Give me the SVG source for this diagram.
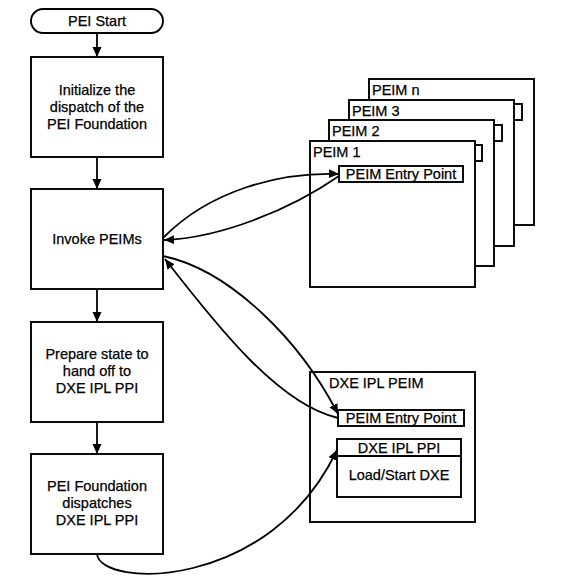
<svg xmlns="http://www.w3.org/2000/svg" width="574" height="582" viewBox="0 0 574 582">
<defs>
<marker id="ah" markerUnits="userSpaceOnUse" markerWidth="10" markerHeight="10" refX="10" refY="5" orient="auto">
<path d="M0,0.5 L10,5 L0,9.5 z" fill="#000"/>
</marker>
<style>
.box{fill:#fff;stroke:#000;stroke-width:1.9}
.ln{fill:none;stroke:#000;stroke-width:1.8}
.t{font-family:"Liberation Sans",Arial,sans-serif;font-size:14.5px;fill:#000;stroke:#000;stroke-width:0.25}
.c{text-anchor:middle}
</style>
</defs>
<rect width="574" height="582" fill="#fff"/>

<g id="pei-start">
<rect class="box" x="31" y="9" width="132" height="24" rx="12" ry="12"/>
<text class="t c" x="97" y="26">PEI Start</text>
</g>
<g id="init">
<rect class="box" x="31" y="57" width="132" height="100"/>
<text class="t c" x="97" y="95">Initialize the</text>
<text class="t c" x="97" y="112">dispatch of the</text>
<text class="t c" x="97" y="129">PEI Foundation</text>
</g>
<g id="invoke">
<rect class="box" x="31" y="189" width="132" height="100"/>
<text class="t c" x="97" y="244">Invoke PEIMs</text>
</g>
<g id="prepare">
<rect class="box" x="31" y="322" width="132" height="100"/>
<text class="t c" x="97" y="359">Prepare state to</text>
<text class="t c" x="97" y="376">hand off to</text>
<text class="t c" x="97" y="393">DXE IPL PPI</text>
</g>
<g id="dispatch">
<rect class="box" x="31" y="454" width="132" height="100"/>
<text class="t c" x="97" y="491">PEI Foundation</text>
<text class="t c" x="97" y="508">dispatches</text>
<text class="t c" x="97" y="525">DXE IPL PPI</text>
</g>

<g id="peim-n">
<rect class="box" x="369" y="79" width="165" height="146"/>
<rect class="box" x="398" y="104" width="124" height="16"/>
<text class="t" x="372" y="95">PEIM n</text>
</g>
<g id="peim-3">
<rect class="box" x="349" y="100" width="165" height="146"/>
<rect class="box" x="378" y="125" width="124" height="16"/>
<text class="t" x="352" y="116">PEIM 3</text>
</g>
<g id="peim-2">
<rect class="box" x="329" y="120" width="165" height="146"/>
<rect class="box" x="358" y="145" width="124" height="16"/>
<text class="t" x="332" y="136">PEIM 2</text>
</g>
<g id="peim-1">
<rect class="box" x="310" y="141" width="165" height="146"/>
<rect class="box" x="339" y="166" width="124" height="16"/>
<text class="t" x="313" y="157">PEIM 1</text>
<text class="t c" x="401" y="179">PEIM Entry Point</text>
</g>

<g id="dxe-ipl-peim">
<rect class="box" x="310" y="372" width="165" height="150"/>
<text class="t" x="329" y="388">DXE IPL PEIM</text>
<rect class="box" x="338" y="410" width="126" height="16"/>
<text class="t c" x="401" y="423">PEIM Entry Point</text>
<rect class="box" x="337" y="439" width="124" height="58"/>
<line class="ln" x1="337" y1="456" x2="461" y2="456"/>
<text class="t c" x="399" y="453">DXE IPL PPI</text>
<text class="t c" x="399" y="480">Load/Start DXE</text>
</g>

<g id="connectors">
<line class="ln" x1="97" y1="33" x2="97" y2="57" marker-end="url(#ah)"/>
<line class="ln" x1="97" y1="157" x2="97" y2="189" marker-end="url(#ah)"/>
<line class="ln" x1="97" y1="289" x2="97" y2="322" marker-end="url(#ah)"/>
<line class="ln" x1="97" y1="422" x2="97" y2="454" marker-end="url(#ah)"/>
<path class="ln" d="M163,238 C210,190 280,172 339,174" marker-end="url(#ah)"/>
<path class="ln" d="M339,176 C290,210 220,238 164,240" marker-end="url(#ah)"/>
<path class="ln" d="M163,256 C230,270 300,340 338,414" marker-end="url(#ah)"/>
<path class="ln" d="M338,418 C280,405 220,330 165,259" marker-end="url(#ah)"/>
<path class="ln" d="M97,554 C100,588 270,592 337,450" marker-end="url(#ah)"/>
</g>
</svg>
